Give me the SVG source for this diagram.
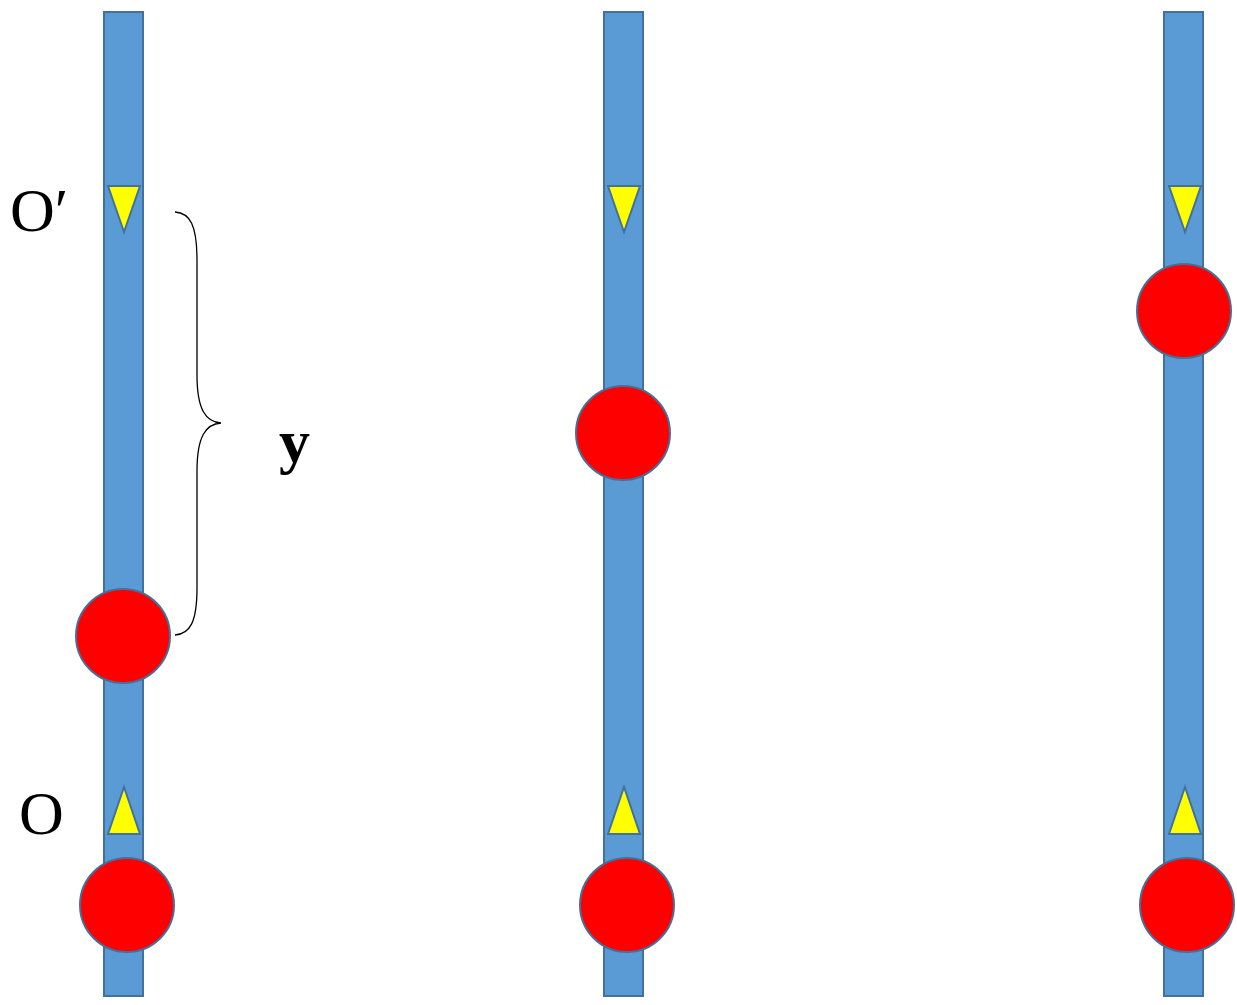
<svg xmlns="http://www.w3.org/2000/svg" width="1237" height="1005" viewBox="0 0 1237 1005">
<style>
.bar{fill:#5B9BD5;stroke:#41719C;stroke-width:2}
.ball{fill:#FF0000;stroke:#41719C;stroke-width:2}
.tri{fill:#FFFF00;stroke:#41719C;stroke-width:2;stroke-linejoin:miter}
.lbl{font-family:'Liberation Serif', 'Times New Roman', Times, serif;font-size:62px;fill:#000}
.brace{fill:none;stroke:#000;stroke-width:1.3}
</style>
<rect x="0" y="0" width="1237" height="1005" fill="#fff"/>
<g id="column1">
<rect class="bar" x="104" y="12" width="39" height="984"/>
<polygon class="tri" points="108,186 140,186 124,232"/>
<polygon class="tri" points="108,834 140,834 124,787"/>
<circle class="ball" cx="123" cy="636" r="47"/>
<circle class="ball" cx="127" cy="905" r="47"/>
</g>
<g id="column2">
<rect class="bar" x="604" y="12" width="39" height="984"/>
<polygon class="tri" points="608,186 640,186 624,232"/>
<polygon class="tri" points="608,834 640,834 624,787"/>
<circle class="ball" cx="623" cy="433" r="47"/>
<circle class="ball" cx="627" cy="905" r="47"/>
</g>
<g id="column3">
<rect class="bar" x="1164" y="12" width="39" height="984"/>
<polygon class="tri" points="1169,186 1201,186 1185,232"/>
<polygon class="tri" points="1169,834 1201,834 1185,787"/>
<circle class="ball" cx="1184" cy="311" r="47"/>
<circle class="ball" cx="1187" cy="905" r="47"/>
</g>
<g id="brace">
<path class="brace" d="M175,212 C190,213 197,225 197,260 L197,375 C197,410 206,422 221,423 C206,424 197,436 197,471 L197,588 C197,622 190,634 175,635"/>
</g>
<g id="labels">
<text class="lbl" font-family="Liberation Serif" x="10" y="231">O′</text>
<text class="lbl" font-family="Liberation Serif" x="19" y="834">O</text>
<text class="lbl" font-family="Liberation Serif" font-weight="bold" x="279" y="462">y</text>
</g>
</svg>
